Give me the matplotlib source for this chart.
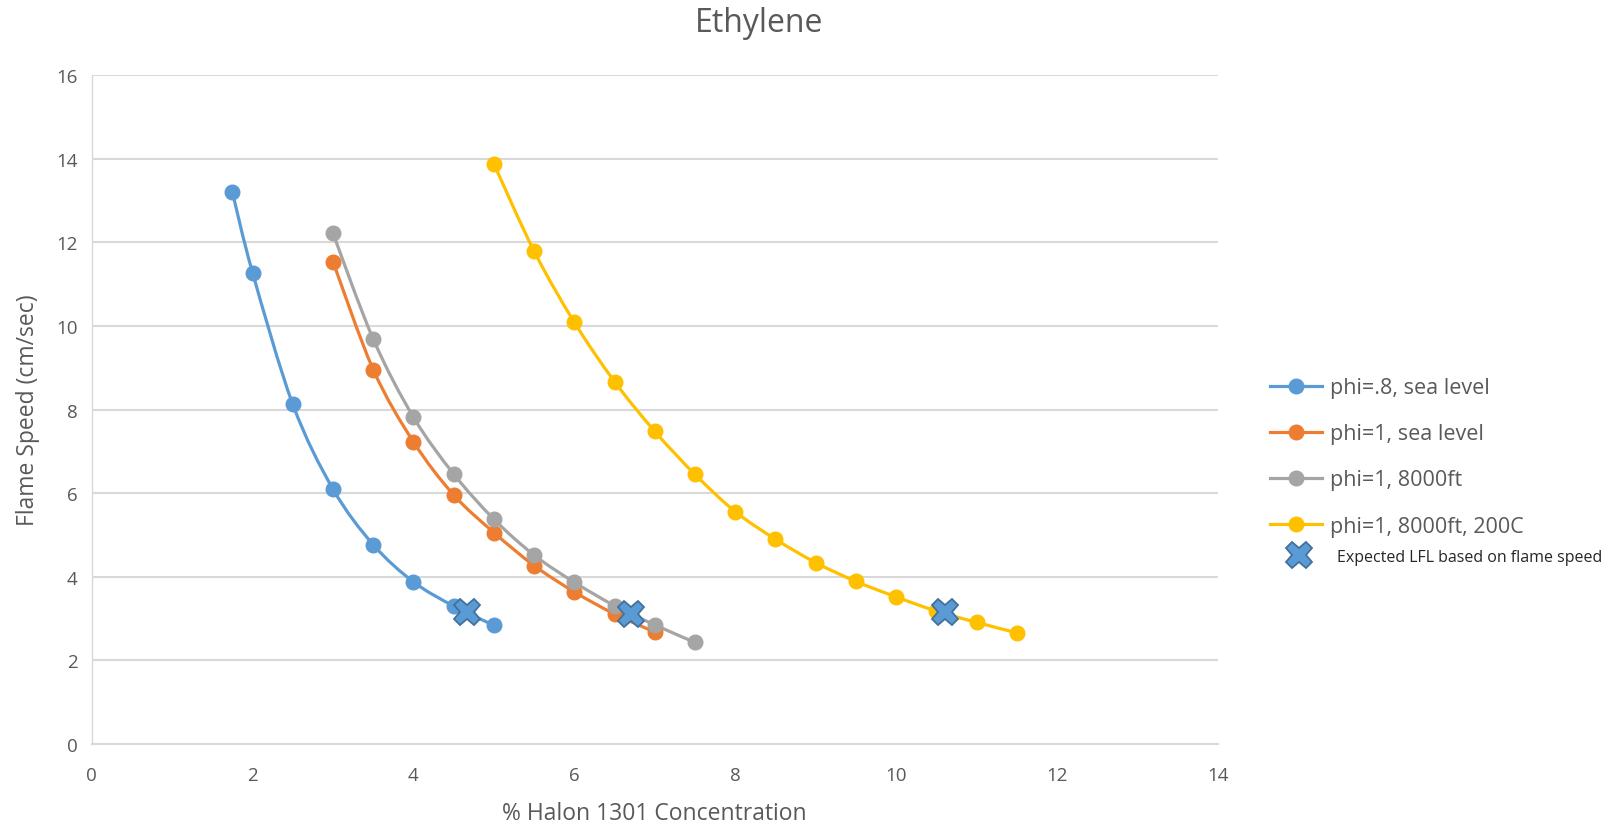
import numpy as np
import matplotlib
matplotlib.use('Agg')
from matplotlib import pyplot as plt
from matplotlib.path import Path
from matplotlib.patches import PathPatch
from matplotlib.lines import Line2D

plt.rcParams['font.family'] = ['Open Sans', 'DejaVu Sans']

halon_blue = [1.75, 2, 2.5, 3, 3.5, 4, 4.5, 5]
speed_blue = [13.2, 11.28, 8.13, 6.1, 4.77, 3.88, 3.3, 2.84]

halon_orange = [3, 3.5, 4, 4.5, 5, 5.5, 6, 6.5, 7]
speed_orange = [11.54, 8.96, 7.23, 5.96, 5.06, 4.27, 3.64, 3.11, 2.68]

halon_gray = [3, 3.5, 4, 4.5, 5, 5.5, 6, 6.5, 7, 7.5]
speed_gray = [12.22, 9.69, 7.82, 6.46, 5.38, 4.52, 3.87, 3.31, 2.85, 2.43]

halon_yellow = [5, 5.5, 6, 6.5, 7, 7.5, 8, 8.5, 9, 9.5, 10, 10.5, 11, 11.5]
speed_yellow = [13.88, 11.79, 10.09, 8.67, 7.48, 6.45, 5.56, 4.90, 4.34, 3.89, 3.52, 3.18, 2.91, 2.66]

lfl_halon = [4.67, 6.71, 10.61]
lfl_speed = [3.15, 3.11, 3.16]

labels = ['phi=.8, sea level', 'phi=1, sea level', 'phi=1, 8000ft', 'phi=1, 8000ft, 200C']
colors = ['#5B9BD5', '#ED7D31', '#A5A5A5', '#FFC000']
series = [(halon_blue, speed_blue), (halon_orange, speed_orange),
          (halon_gray, speed_gray), (halon_yellow, speed_yellow)]


def smooth_path(x, y, k=1/6):
    # excel-like smoothed line: cubic bezier through the points (catmull-rom)
    x = np.asarray(x, float)
    y = np.asarray(y, float)
    verts = [(x[0], y[0])]
    codes = [Path.MOVETO]
    n = len(x)
    for i in range(n - 1):
        i0 = max(i - 1, 0)
        i3 = min(i + 2, n - 1)
        c1 = (x[i] + (x[i + 1] - x[i0]) * k, y[i] + (y[i + 1] - y[i0]) * k)
        c2 = (x[i + 1] - (x[i3] - x[i]) * k, y[i + 1] - (y[i3] - y[i]) * k)
        verts += [c1, c2, (x[i + 1], y[i + 1])]
        codes += [Path.CURVE4] * 3
    return Path(verts, codes)


fig = plt.figure(figsize=(16.16, 8.28), dpi=100)
ax = fig.add_axes([0.0567, 0.1002, 0.6970, 0.8077])

handles = []
for (xs, ys), c, lab in zip(series, colors, labels):
    ax.add_patch(PathPatch(smooth_path(xs, ys), fill=False, edgecolor=c, lw=2.3, zorder=3))
    ax.plot(xs, ys, linestyle='none', marker='o', markersize=10.5, color=c, zorder=4)
    handles.append(Line2D([0], [0], color=c, lw=2.3, marker='o', markersize=10.5))

cross, = ax.plot(lfl_halon, lfl_speed, linestyle='none', marker='X', markersize=19,
                 markerfacecolor='#5B9BD5', markeredgecolor='#41719C', markeredgewidth=1.3, zorder=5)

ax.set_xlim(0, 14)
ax.set_ylim(0, 16)
ax.set_xticks(range(0, 15, 2))
ax.set_yticks(range(0, 17, 2))
ax.grid(axis='y', color='#D9D9D9', lw=1.5)
ax.set_axisbelow(True)
ax.tick_params(length=0, labelsize=13.5, labelcolor='#595959', pad=10)
ax.tick_params(axis='x', pad=16)
for s in ['top', 'right']:
    ax.spines[s].set_visible(False)
ax.spines['bottom'].set_color('#D9D9D9')
ax.spines['bottom'].set_linewidth(1.5)
ax.spines['left'].set_color('#D9D9D9')
ax.spines['left'].set_linewidth(1)

ax.set_xlabel('% Halon 1301 Concentration', fontsize=16.5, color='#595959', labelpad=12)
ax.set_ylabel('Flame Speed (cm/sec)', fontsize=16.5, color='#595959', labelpad=12)
fig.text(0.47, 0.972, 'Ethylene', fontsize=23, color='#595959', ha='center', va='center')

leg = fig.legend(handles, labels, loc='center left', bbox_to_anchor=(0.786, 0.447),
                 frameon=False, fontsize=15.5, handlelength=2.4, handletextpad=0.4,
                 labelspacing=1.17, borderaxespad=0, borderpad=0)
for t in leg.get_texts():
    t.set_color('#595959')

leg2 = fig.legend([cross], ['Expected LFL based on flame speed'], loc='center left',
                  bbox_to_anchor=(0.792, 0.326), frameon=False, fontsize=11.5,
                  handlelength=2.4, handletextpad=1.15, borderaxespad=0, borderpad=0)
leg2.get_texts()[0].set_color('#262626')

plt.savefig('out.png', dpi=100)
